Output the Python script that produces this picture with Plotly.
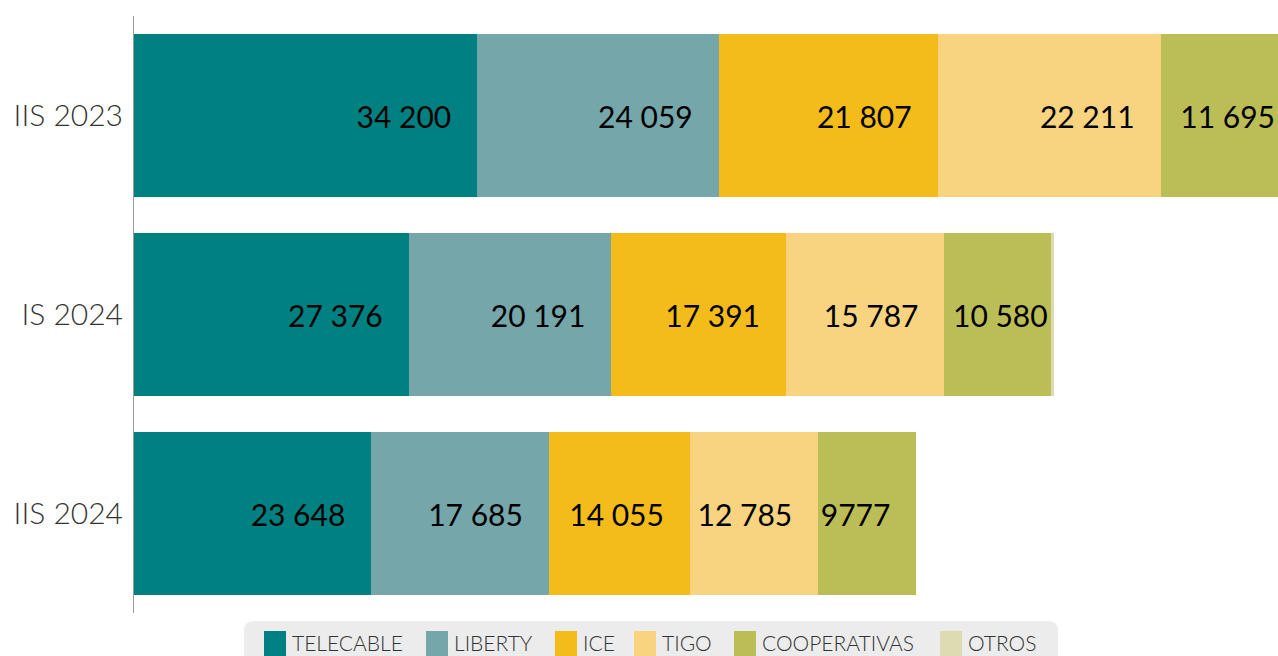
import plotly.graph_objects as go

# ---------------- data ----------------
periods = ["IIS 2023", "IS 2024", "IIS 2024"]
series_names = ["TELECABLE", "LIBERTY", "ICE", "TIGO", "COOPERATIVAS", "OTROS"]
telecable = [34200, 27376, 23648]
liberty = [24059, 20191, 17685]
ice = [21807, 17391, 14055]
tigo = [22211, 15787, 12785]
cooperativas = [11695, 10580, 9777]
otros = [350, 380, 0]
series_values = [telecable, liberty, ice, tigo, cooperativas, otros]
show_labels = [True, True, True, True, True, False]

# ---------------- styles ----------------
colors = ["#008080", "#75A6AA", "#F3BC1A", "#F8D480", "#BBBD57", "#DDDBB2"]
W, H = 1278, 656
ML, MR, MT, MB = 134, 0, 16, 43
PW, PH = W - ML - MR, H - MT - MB
# visible axis extent: ends where the cooperativas segment of the top bar ends
X_MAX = sum(s[0] for s in series_values[:5])
PX_PER_UNIT = PW / X_MAX
LABEL_SIZE = 30


def fmt(v):
    s = str(int(v))
    if len(s) > 4:
        s = s[:-3] + " " + s[-3:]
    return s


def label(v):
    s = fmt(v)
    est_w = len(s) * 0.55 * LABEL_SIZE
    pad = "\u00a0\u00a0\u00a0"
    if v * PX_PER_UNIT < est_w + 20:
        pad = ""
    return s + pad


fig = go.Figure()
for name, vals, col, lab in zip(series_names, series_values, colors, show_labels):
    fig.add_trace(go.Bar(
        y=periods, x=vals, name=name, orientation="h",
        marker=dict(color=col, line=dict(width=0)),
        text=[label(v) if lab and v > 0 else "" for v in vals],
        textposition="inside", insidetextanchor="end", textangle=0,
        textfont=dict(family="Lato", size=LABEL_SIZE, color="#000000"),
        showlegend=False, hoverinfo="skip",
    ))

fig.update_layout(
    width=W, height=H,
    margin=dict(l=ML, r=MR, t=MT, b=MB, pad=0),
    barmode="stack", bargap=0.176,
    plot_bgcolor="white", paper_bgcolor="white",
    uniformtext=dict(minsize=LABEL_SIZE, mode="show"),
    xaxis=dict(visible=False, range=[0, X_MAX], fixedrange=True),
    yaxis=dict(
        autorange="reversed", showgrid=False, zeroline=False,
        showline=True, linecolor="#9a9a9a", linewidth=1,
        ticks="", ticklabelstandoff=4,
        tickfont=dict(family="Lato", size=30, color="#333333", weight=300),
    ),
    font=dict(family="Lato"),
)

# ---------------- legend (custom, below plot) ----------------
def px_x(px):
    return (px - ML) / PW


def px_y(py):
    return (H - MB - py) / PH


legend_x = [264, 426, 555, 634, 734, 940]
box_l, box_r, box_t, box_b, rad = 244, 1058, 621, 680, 10
path = (
    f"M {px_x(box_l)},{px_y(box_t + rad)} "
    f"Q {px_x(box_l)},{px_y(box_t)} {px_x(box_l + rad)},{px_y(box_t)} "
    f"L {px_x(box_r - rad)},{px_y(box_t)} "
    f"Q {px_x(box_r)},{px_y(box_t)} {px_x(box_r)},{px_y(box_t + rad)} "
    f"L {px_x(box_r)},{px_y(box_b)} L {px_x(box_l)},{px_y(box_b)} Z"
)
shapes = [dict(type="path", xref="paper", yref="paper", path=path,
               fillcolor="#ECECEC", line=dict(width=0), layer="below")]
annotations = []
for name, col, lx in zip(series_names, colors, legend_x):
    shapes.append(dict(type="rect", xref="paper", yref="paper",
                       x0=px_x(lx), x1=px_x(lx + 22), y0=px_y(631), y1=px_y(660),
                       fillcolor=col, line=dict(width=0)))
    annotations.append(dict(xref="paper", yref="paper", x=px_x(lx + 26), y=px_y(642),
                            xanchor="left", yanchor="middle", showarrow=False,
                            text=name,
                            font=dict(family="Lato", size=21, color="#333333", weight=300)))
fig.update_layout(shapes=shapes, annotations=annotations)

fig.write_html(
    "out.html",
    config={"displayModeBar": False},
    post_script="document.body.style.margin='0';document.body.style.overflow='hidden';",
)
